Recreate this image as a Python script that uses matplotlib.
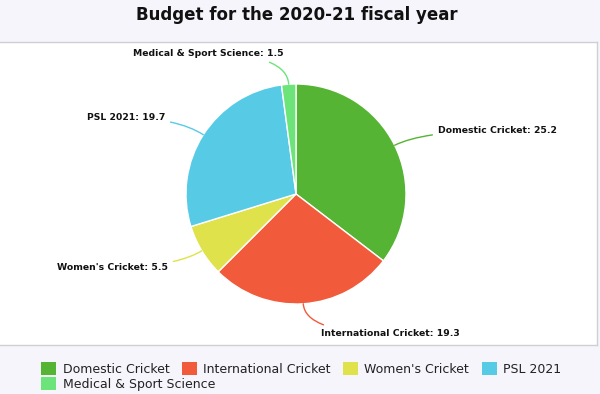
import matplotlib.pyplot as plt
from matplotlib.patches import Patch
import numpy as np

categories = ["Domestic Cricket", "International Cricket", "Women's Cricket",
              "PSL 2021", "Medical & Sport Science"]
values = [25.2, 19.3, 5.5, 19.7, 1.5]
colors = ["#55b433", "#f15a3a", "#dfe24a", "#57cbe5", "#6de47a"]

# label anchor points (pie radius = 1) and alignment
label_pos = [(1.29, 0.573), (0.227, -1.264), (-1.164, -0.664),
             (-1.191, 0.691), (-0.109, 1.273)]
label_ha = ["left", "left", "right", "right", "right"]

bg = "#f5f5fb"
fig = plt.figure(figsize=(6, 3.94), dpi=100, facecolor=bg)
fig.text(0.495, 0.961, "Budget for the 2020-21 fiscal year", ha="center", va="center",
         fontsize=12, fontweight="bold", color="#111111")

ax = fig.add_axes([0, 1 - 345 / 394, 597 / 600, 303 / 394])
ax.set_facecolor("white")

wedges, _ = ax.pie(values, colors=colors, startangle=90, counterclock=False,
                   radius=1, center=(0, 0),
                   wedgeprops=dict(edgecolor="white", linewidth=1))

ax.set_aspect("auto")
ax.set_xlim(-296 / 110, (597 - 296) / 110)
ax.set_ylim(-(345 - 194) / 110, (194 - 42) / 110)
ax.set_frame_on(True)
for s in ax.spines.values():
    s.set_color("#cfcfd6")
    s.set_linewidth(1)
ax.spines["left"].set_visible(False)
ax.set_xticks([])
ax.set_yticks([])

total = sum(values)
cum = 0
for i, v in enumerate(values):
    mid = (cum + v / 2) / total
    cum += v
    ang = 90 - mid * 360
    x, y = np.cos(np.radians(ang)), np.sin(np.radians(ang))
    ax.annotate(f"{categories[i]}: {v}", xy=(x, y), xytext=label_pos[i],
                ha=label_ha[i], va="center", fontsize=6.7, fontweight="bold",
                color="#111111",
                arrowprops=dict(arrowstyle="-", color=colors[i], lw=1,
                                shrinkA=2, shrinkB=0,
                                connectionstyle=f"angle3,angleA=0,angleB={ang:.1f}"))

handles = [Patch(facecolor=c, edgecolor="none") for c in colors]
kw = dict(frameon=False, fontsize=9, handlelength=1.2, handleheight=1.2,
          handletextpad=0.5, columnspacing=1.0, borderaxespad=0, borderpad=0,
          labelcolor="#222222")
leg1 = fig.legend(handles[:4], categories[:4], loc="center", ncol=4,
                  bbox_to_anchor=(0.502, 1 - 369 / 394), **kw)
fig.canvas.draw()
bb = leg1.get_window_extent().transformed(fig.transFigure.inverted())
leg2 = fig.legend(handles[4:], categories[4:], loc="center left", ncol=1,
                  bbox_to_anchor=(bb.x0, 1 - 384 / 394), **kw)

fig.savefig("out.png", dpi=100, facecolor=bg)
